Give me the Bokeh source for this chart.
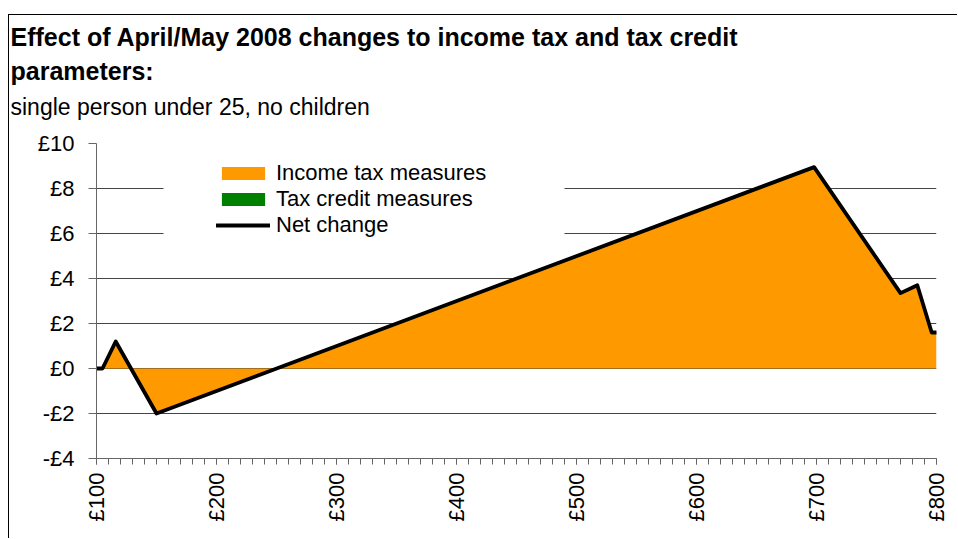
import math
from bokeh.plotting import figure
from bokeh.models import Range1d, FixedTicker, Legend, LegendItem, Title, BoxAnnotation
from bokeh.embed import file_html
from bokeh.resources import INLINE

# ---- data ----
weekly_earnings = [100, 105, 116, 150, 698, 770, 784, 796, 800]
income_tax_measures = [0.0, 0.0, 1.2, -2.0, 8.95, 3.35, 3.7, 1.6, 1.6]
tax_credit_measures = [0.0, 0.0, 0.0, 0.0, 0.0, 0.0, 0.0, 0.0, 0.0]
net_change = [a + b for a, b in zip(income_tax_measures, tax_credit_measures)]

y_ticks = [-4, -2, 0, 2, 4, 6, 8, 10]
y_tick_labels = ["-£4", "-£2", "£0", "£2", "£4", "£6", "£8", "£10"]
x_ticks = [100, 200, 300, 400, 500, 600, 700, 800]
x_tick_labels = ["£100", "£200", "£300", "£400", "£500", "£600", "£700", "£800"]
x_minor_ticks = list(range(100, 801, 10))

title_line1 = "Effect of April/May 2008 changes to income tax and tax credit"
title_line2 = "parameters:"
subtitle = "single person under 25, no children"

FONT = "Liberation Sans"
ORANGE = "#FF9900"
GREEN = "#008000"

p = figure(width=949, height=524, output_backend="svg", toolbar_location=None,
           x_range=Range1d(100, 800), y_range=Range1d(-4, 10),
           min_border_left=87, min_border_right=22, min_border_top=128, min_border_bottom=81,
           margin=(14, 0, 0, 8))
p.styles = {"border-left": "1px solid black", "border-top": "1px solid black"}
p.outline_line_color = None
p.background_fill_color = "white"
p.border_fill_color = "white"

# grid
p.xgrid.visible = False
p.ygrid.ticker = FixedTicker(ticks=y_ticks)
p.ygrid.grid_line_color = "#444444"
p.ygrid.grid_line_width = 1

# white box behind legend (hides gridlines like the original)
p.add_layout(BoxAnnotation(left=67, right=468, top=308, bottom=208,
                           left_units="screen", right_units="screen",
                           top_units="screen", bottom_units="screen",
                           fill_color="white", fill_alpha=1.0, line_color=None,
                           level="underlay"))

# areas and line
r_inc = p.varea(x=weekly_earnings, y1=[0.0] * len(weekly_earnings), y2=income_tax_measures,
                fill_color=ORANGE, fill_alpha=1.0)
r_tc = p.varea(x=weekly_earnings, y1=income_tax_measures,
               y2=[a + b for a, b in zip(income_tax_measures, tax_credit_measures)],
               fill_color=GREEN, fill_alpha=1.0)
r_net = p.line(x=weekly_earnings, y=net_change, line_color="black", line_width=3.8,
               line_join="round", line_cap="round")

# axes
yax = p.yaxis[0]
yax.ticker = FixedTicker(ticks=y_ticks)
yax.major_label_overrides = {t: l for t, l in zip(y_ticks, y_tick_labels)}
yax.major_tick_out = 8
yax.major_tick_in = 0
yax.minor_tick_out = 0
yax.minor_tick_in = 0
yax.axis_line_color = "#666666"
yax.major_tick_line_color = "#666666"
yax.major_label_text_font = FONT
yax.major_label_text_font_size = "22px"
yax.major_label_text_color = "black"
yax.major_label_standoff = 14

xax = p.xaxis[0]
xax.ticker = FixedTicker(ticks=x_ticks, minor_ticks=x_minor_ticks)
xax.major_label_overrides = {t: l for t, l in zip(x_ticks, x_tick_labels)}
xax.major_label_orientation = math.pi / 2
xax.major_tick_out = 6
xax.major_tick_in = 0
xax.minor_tick_out = 6
xax.minor_tick_in = 0
xax.axis_line_color = "#666666"
xax.major_tick_line_color = "#666666"
xax.minor_tick_line_color = "#666666"
xax.major_label_text_font = FONT
xax.major_label_text_font_size = "22px"
xax.major_label_text_color = "black"
xax.major_label_standoff = 8

# legend
legend = Legend(items=[LegendItem(label="Income tax measures", renderers=[r_inc]),
                       LegendItem(label="Tax credit measures", renderers=[r_tc]),
                       LegendItem(label="Net change", renderers=[r_net])],
                location=(120, 220), orientation="vertical",
                background_fill_alpha=0.0, border_line_color=None,
                padding=5, margin=0, spacing=0,
                glyph_width=54, glyph_height=16, label_height=22, label_standoff=6,
                label_text_font=FONT, label_text_font_size="22px", label_text_color="black")
p.add_layout(legend, "center")

# titles (first added sits closest to the plot area); a thin spacer keeps the
# subtitle clear of the plot area
p.add_layout(Title(text=" ", text_font=FONT, text_font_size="1px",
                   align="left", offset=0, standoff=21), "above")
p.add_layout(Title(text=subtitle, text_font=FONT, text_font_size="23px",
                   text_font_style="normal", text_color="black",
                   align="left", offset=-86, standoff=0), "above")
p.add_layout(Title(text=title_line2, text_font=FONT, text_font_size="25px",
                   text_font_style="bold", text_color="black",
                   align="left", offset=-86, standoff=14), "above")
p.add_layout(Title(text=title_line1, text_font=FONT, text_font_size="25px",
                   text_font_style="bold", text_color="black",
                   align="left", offset=-86, standoff=-7), "above")

open("out.html", "w").write(file_html(p, INLINE))
